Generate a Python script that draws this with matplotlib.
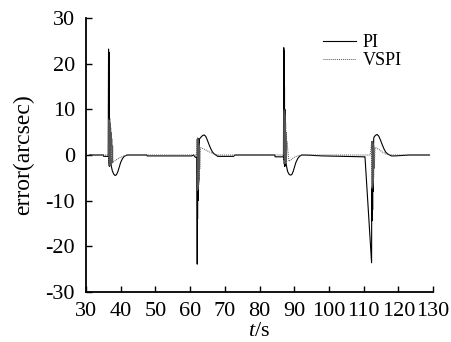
import numpy as np
import matplotlib
matplotlib.use('Agg')
import matplotlib.pyplot as plt

# PI error trace (t in s, error in arcsec)
t_pi = [31.0, 35.0, 35.1, 36.4, 36.5, 36.55, 36.6, 36.65, 36.7, 36.75, 36.8, 36.85, 36.9, 36.95, 37.0,
        37.1, 37.3, 37.6, 38.0, 38.4, 38.8, 39.2, 39.6, 40.0, 40.5, 41.0, 41.8, 47.5, 47.6, 60.5,
        61.0, 61.5, 62.0, 62.05, 62.1, 62.15, 62.2, 62.25, 62.3, 62.35, 62.4, 62.45, 62.5, 62.6, 62.7,
        63.0, 63.5, 64.0, 64.5, 65.0, 65.5, 66.0, 66.5, 67.0, 68.0, 72.5, 73.0,
        84.4, 84.5, 86.9, 87.0, 87.05, 87.1, 87.15, 87.2, 87.25, 87.3, 87.35, 87.4, 87.45, 87.5,
        87.6, 87.8, 88.1, 88.5, 88.9, 89.3, 89.7, 90.1, 90.5, 91.0, 91.5, 92.2, 93.1, 98.2, 98.3,
        110.3, 110.4, 112.3, 112.35, 112.4, 112.45, 112.5, 112.55, 112.6, 112.65, 112.7, 112.75, 112.8, 112.9,
        113.0, 113.4, 113.9, 114.4, 114.9, 115.4, 115.9, 116.4, 117.0, 118.0, 119.0, 123.3, 123.4, 129.0]
e_pi = [0.0, 0.0, -0.3, -0.3, 23.2, -1.0, 22.5, -2.0, 14.0, -2.5, 8.0, -2.4, 6.0, -2.0, 4.0,
        -1.5, -2.5, -3.5, -4.2, -4.5, -4.3, -3.6, -2.6, -1.6, -0.8, -0.3, 0.0, 0.0, -0.2, -0.2,
        0.0, -0.5, -0.5, -23.9, 3.5, -14.0, 3.7, -10.0, 3.5, -7.9, 3.0, -6.0, 2.5, -3.0, 3.5,
        3.8, 4.2, 4.4, 4.1, 3.2, 2.2, 1.3, 0.6, 0.2, -0.3, -0.3, 0.0,
        0.0, -0.4, -0.4, 23.5, -1.0, 22.8, -2.0, 15.0, -2.5, 10.0, -2.4, 7.0, -2.0, 4.5,
        -1.5, -2.5, -3.6, -4.2, -4.4, -4.3, -3.6, -2.6, -1.6, -0.8, -0.3, 0.0, 0.0, -0.2,
        -0.2, -0.4, -0.4, -23.6, -7.0, -14.4, -7.5, -14.0, -7.4, -12.0, -6.0, -8.0, 2.0, -3.0, 3.5,
        3.9, 4.3, 4.5, 4.1, 3.2, 2.2, 1.3, 0.6, 0.2, -0.2, -0.2, 0.0, 0.0, 0.0]

# VSPI error trace
t_vs = [31.0, 36.5, 36.55, 36.6, 36.65, 36.7, 36.75, 36.8, 36.85, 36.9, 36.95, 37.0, 37.05, 37.1,
        37.15, 37.2, 37.3, 37.4, 37.5, 37.6, 37.7, 37.8, 38.3, 39.0, 40.0, 41.0, 42.5, 61.9,
        62.05, 62.1, 62.15, 62.2, 62.25, 62.3, 62.35, 62.4, 62.45, 62.5, 62.55, 62.6, 62.7, 62.8,
        63.0, 63.5, 64.5, 65.5, 66.5, 68.0, 70.0, 86.9,
        87.05, 87.1, 87.15, 87.2, 87.25, 87.3, 87.35, 87.4, 87.45, 87.5, 87.55, 87.6, 87.7, 87.8,
        87.9, 88.5, 89.2, 90.0, 91.0, 92.0, 111.9,
        112.35, 112.4, 112.45, 112.5, 112.55, 112.6, 112.65, 112.7, 112.75, 112.8, 112.85, 112.9, 113.0, 113.1,
        113.3, 113.8, 114.6, 115.5, 116.5, 118.0, 129.0]
e_vs = [0.0, 0.0, 7.9, -2.4, 7.6, -2.3, 7.4, -2.4, 7.2, -2.2, 7.0, -2.3, 6.5, -2.2,
        6.0, -2.0, 5.0, -2.0, 3.5, -1.8, 2.0, -1.6, -1.3, -0.9, -0.5, -0.2, 0.0, 0.0,
        3.5, -7.9, 3.7, -7.6, 3.5, -7.4, 3.3, -7.0, 3.0, -6.5, 2.6, -5.5, 2.0, -3.0,
        1.6, 1.5, 1.1, 0.7, 0.3, 0.0, 0.0, 0.0,
        10.0, -1.8, 9.6, -1.9, 9.2, -1.8, 8.8, -1.8, 8.0, -1.7, 7.0, -1.8, 5.0, -1.6,
        3.0, -1.4, -1.0, -0.5, -0.2, 0.0, 0.0,
        3.0, -7.4, 3.0, -7.2, 2.9, -7.0, 2.8, -6.8, 2.6, -6.0, 2.3, -5.0, 2.0, -3.0,
        1.6, 1.5, 1.1, 0.6, 0.2, 0.0, 0.0]

x_ticks = [30, 40, 50, 60, 70, 80, 90, 100, 110, 120, 130]
y_ticks = [-30, -20, -10, 0, 10, 20, 30]

plt.rcParams['font.family'] = ['Liberation Serif', 'DejaVu Serif']
plt.rcParams['axes.unicode_minus'] = False
plt.rcParams['mathtext.fontset'] = 'custom'
plt.rcParams['mathtext.it'] = 'Liberation Serif:italic'
plt.rcParams['mathtext.rm'] = 'Liberation Serif'

fig = plt.figure(figsize=(4.51, 3.42), dpi=100)
ax = fig.add_axes([86 / 451, 1 - 292 / 342, (433 - 86) / 451, (292 - 18) / 342])

ax.plot(t_pi, e_pi, color='black', lw=0.8, label='PI')
ax.plot(t_vs, e_vs, color='#555555', lw=0.7, ls=(0, (1, 1)), label='VSPI')

ax.set_xlim(30, 130)
ax.set_ylim(-30, 30)
ax.set_xticks(x_ticks)
ax.set_yticks(y_ticks)
for s in ['top', 'right']:
    ax.spines[s].set_visible(False)
for s in ['left', 'bottom']:
    ax.spines[s].set_linewidth(1.3)
ax.tick_params(direction='in', length=4, width=1.0, labelsize=16)
ax.tick_params(axis='x', pad=7)
ax.tick_params(axis='y', pad=8)
ax.set_xlabel('$t$/s', fontsize=16, labelpad=1)
ax.set_ylabel('error(arcsec)', fontsize=17, labelpad=8)

leg = ax.legend(loc='upper left', bbox_to_anchor=(323 / 451, 1 - 34 / 342),
                bbox_transform=fig.transFigure, frameon=False, fontsize=13,
                handlelength=1.8, handletextpad=0.4, labelspacing=0.05,
                borderpad=0, borderaxespad=0)

fig.savefig('out.png', dpi=100)
